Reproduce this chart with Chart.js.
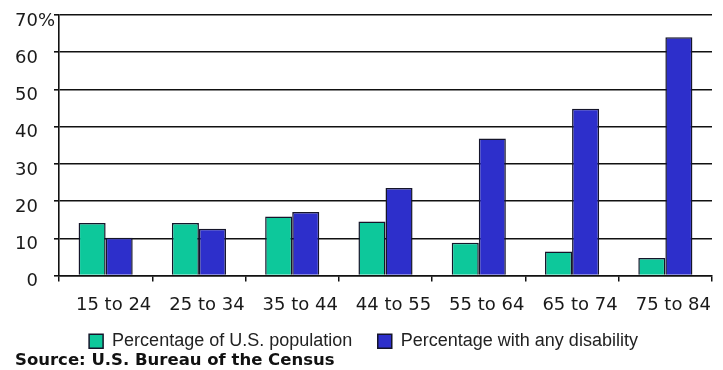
<!DOCTYPE html>
<html>
<head>
<meta charset="utf-8">
<script src="https://cdn.jsdelivr.net/npm/chart.js@4/dist/chart.umd.min.js"></script>
<style>
  html, body { margin: 0; padding: 0; background: #ffffff; }
  #wrap { width: 723px; height: 370px; }
</style>
</head>
<body>
<div id="wrap"><canvas id="chart" width="723" height="370"></canvas></div>
<script>
// Age groups on the horizontal axis
const ageGroups = ['15 to 24', '25 to 34', '35 to 44', '44 to 55', '55 to 64', '65 to 74', '75 to 84'];
// Share of the U.S. population in each age group (%)
const populationShare = [14.1, 14.1, 15.9, 14.5, 8.8, 6.5, 4.7];
// Share of each age group with any disability (%)
const disabilityShare = [10.2, 12.6, 17.1, 23.5, 36.8, 44.8, 64.0];
// Vertical axis ticks
const yTickValues = [0, 10, 20, 30, 40, 50, 60, 70];
const seriesNames = ['Percentage of U.S. population', 'Percentage with any disability'];
const sourceNote = 'Source: U.S. Bureau of the Census';

const GREEN = '#0dc89b';
const BLUE = '#2d2fcb';
const EDGE = '#15152a';

function yLabel(v) {
  if (v === yTickValues[yTickValues.length - 1]) return v + '%';
  // figure space keeps the single digit lined up under the tens
  if (v < 10) return '\u2007' + v;
  return String(v);
}

new Chart(document.getElementById('chart'), {
  type: 'bar',
  data: {
    labels: ageGroups,
    datasets: [
      {
        label: seriesNames[0],
        data: populationShare,
        backgroundColor: GREEN,
        borderColor: EDGE,
        borderWidth: 1.5,
        categoryPercentage: 0.58,
        barPercentage: 1.0
      },
      {
        label: seriesNames[1],
        data: disabilityShare,
        backgroundColor: BLUE,
        borderColor: EDGE,
        borderWidth: 1.5,
        categoryPercentage: 0.58,
        barPercentage: 1.0
      }
    ]
  },
  options: {
    responsive: false,
    animation: false,
    layout: { padding: { left: 15, right: 11, top: 15, bottom: 1 } },
    scales: {
      x: {
        offset: true,
        grid: {
          display: true,
          offset: true,
          drawOnChartArea: false,
          drawTicks: true,
          tickLength: 6,
          color: '#111111',
          lineWidth: 1.5
        },
        border: { display: true, color: '#111111', width: 1.6 },
        ticks: {
          font: { family: 'DejaVu Sans', size: 18 },
          color: '#1a1a1a',
          padding: 13,
          labelOffset: 8,
          maxRotation: 0,
          autoSkip: false
        }
      },
      y: {
        min: 0,
        max: 70,
        afterBuildTicks(scale) {
          scale.ticks = yTickValues.map(v => ({ value: v }));
        },
        afterFit(scale) { scale.width = 44; },
        grid: {
          color: '#111111',
          lineWidth: 1.6,
          drawTicks: true,
          tickLength: 5
        },
        border: { display: true, color: '#111111', width: 1.6 },
        ticks: {
          font: { family: 'DejaVu Sans', size: 18 },
          color: '#1a1a1a',
          crossAlign: 'far',
          labelOffset: 6,
          callback: yLabel
        }
      }
    },
    plugins: {
      legend: {
        position: 'bottom',
        labels: {
          font: { family: 'Liberation Sans', size: 18 },
          color: '#222222',
          boxWidth: 14,
          boxHeight: 14,
          padding: 3,
          generateLabels(chart) {
            const items = Chart.defaults.plugins.legend.labels.generateLabels(chart);
            // wider gap after the first entry
            if (items.length) items[0].text += '\u2003\u2005';
            return items;
          }
        }
      },
      title: {
        display: true,
        text: sourceNote,
        position: 'bottom',
        align: 'start',
        font: { family: 'DejaVu Sans', size: 16.5, weight: 'bold' },
        color: '#111111',
        padding: { top: -9, bottom: -2 }
      },
      tooltip: { enabled: false }
    }
  }
});
</script>
</body>
</html>
